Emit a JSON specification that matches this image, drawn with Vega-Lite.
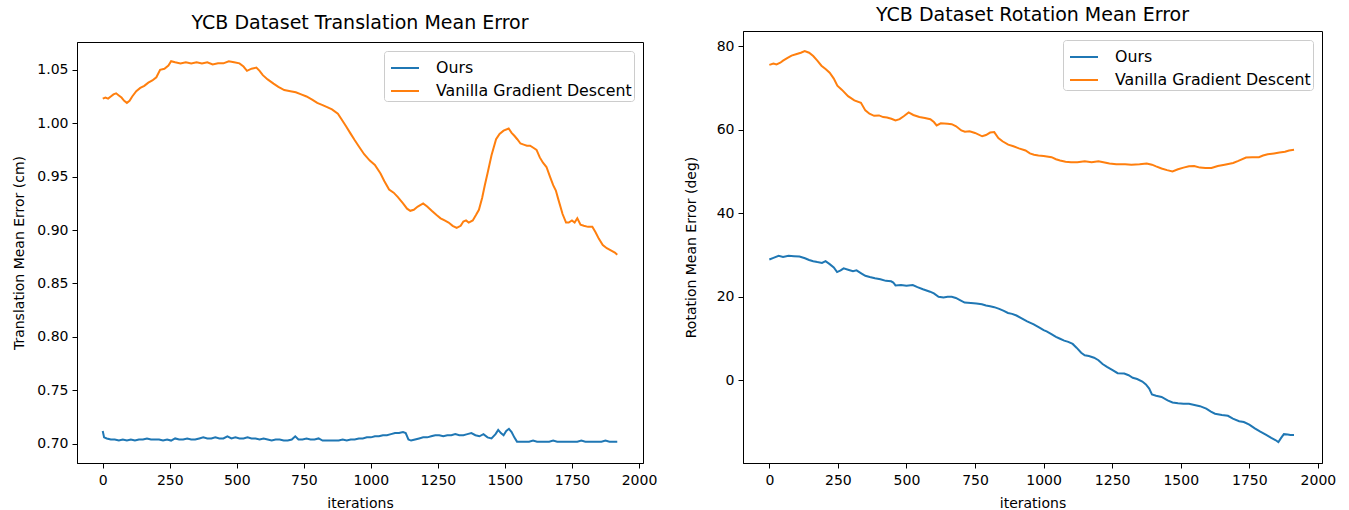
{
  "$schema": "https://vega.github.io/schema/vega-lite/v6.json",
  "background": "white",
  "padding": {"left": 12, "top": 4, "right": 5, "bottom": 5},
  "spacing": 25,
  "datasets": {
    "trans": [
      {"it":0,"s":"Vanilla Gradient Descent","v":1.023},{"it":10,"s":"Vanilla Gradient Descent","v":1.024},{"it":20,"s":"Vanilla Gradient Descent","v":1.023},{"it":30,"s":"Vanilla Gradient Descent","v":1.025},{"it":40,"s":"Vanilla Gradient Descent","v":1.027},{"it":50,"s":"Vanilla Gradient Descent","v":1.028},{"it":60,"s":"Vanilla Gradient Descent","v":1.026},{"it":70,"s":"Vanilla Gradient Descent","v":1.024},{"it":80,"s":"Vanilla Gradient Descent","v":1.021},{"it":90,"s":"Vanilla Gradient Descent","v":1.019},{"it":100,"s":"Vanilla Gradient Descent","v":1.021},{"it":110,"s":"Vanilla Gradient Descent","v":1.025},{"it":125,"s":"Vanilla Gradient Descent","v":1.030},{"it":140,"s":"Vanilla Gradient Descent","v":1.033},{"it":155,"s":"Vanilla Gradient Descent","v":1.035},{"it":170,"s":"Vanilla Gradient Descent","v":1.038},{"it":185,"s":"Vanilla Gradient Descent","v":1.040},{"it":200,"s":"Vanilla Gradient Descent","v":1.043},{"it":214,"s":"Vanilla Gradient Descent","v":1.050},{"it":230,"s":"Vanilla Gradient Descent","v":1.051},{"it":245,"s":"Vanilla Gradient Descent","v":1.054},{"it":255,"s":"Vanilla Gradient Descent","v":1.058},{"it":270,"s":"Vanilla Gradient Descent","v":1.057},{"it":290,"s":"Vanilla Gradient Descent","v":1.056},{"it":310,"s":"Vanilla Gradient Descent","v":1.057},{"it":330,"s":"Vanilla Gradient Descent","v":1.056},{"it":350,"s":"Vanilla Gradient Descent","v":1.057},{"it":370,"s":"Vanilla Gradient Descent","v":1.056},{"it":390,"s":"Vanilla Gradient Descent","v":1.057},{"it":410,"s":"Vanilla Gradient Descent","v":1.055},{"it":430,"s":"Vanilla Gradient Descent","v":1.056},{"it":450,"s":"Vanilla Gradient Descent","v":1.056},{"it":470,"s":"Vanilla Gradient Descent","v":1.058},{"it":490,"s":"Vanilla Gradient Descent","v":1.057},{"it":510,"s":"Vanilla Gradient Descent","v":1.056},{"it":525,"s":"Vanilla Gradient Descent","v":1.053},{"it":538,"s":"Vanilla Gradient Descent","v":1.049},{"it":555,"s":"Vanilla Gradient Descent","v":1.051},{"it":573,"s":"Vanilla Gradient Descent","v":1.052},{"it":585,"s":"Vanilla Gradient Descent","v":1.049},{"it":597,"s":"Vanilla Gradient Descent","v":1.045},{"it":615,"s":"Vanilla Gradient Descent","v":1.041},{"it":637,"s":"Vanilla Gradient Descent","v":1.037},{"it":655,"s":"Vanilla Gradient Descent","v":1.034},{"it":677,"s":"Vanilla Gradient Descent","v":1.031},{"it":700,"s":"Vanilla Gradient Descent","v":1.030},{"it":720,"s":"Vanilla Gradient Descent","v":1.029},{"it":740,"s":"Vanilla Gradient Descent","v":1.027},{"it":760,"s":"Vanilla Gradient Descent","v":1.025},{"it":781,"s":"Vanilla Gradient Descent","v":1.022},{"it":800,"s":"Vanilla Gradient Descent","v":1.019},{"it":820,"s":"Vanilla Gradient Descent","v":1.017},{"it":837,"s":"Vanilla Gradient Descent","v":1.015},{"it":855,"s":"Vanilla Gradient Descent","v":1.013},{"it":877,"s":"Vanilla Gradient Descent","v":1.009},{"it":890,"s":"Vanilla Gradient Descent","v":1.004},{"it":908,"s":"Vanilla Gradient Descent","v":0.997},{"it":925,"s":"Vanilla Gradient Descent","v":0.990},{"it":940,"s":"Vanilla Gradient Descent","v":0.984},{"it":956,"s":"Vanilla Gradient Descent","v":0.978},{"it":975,"s":"Vanilla Gradient Descent","v":0.971},{"it":996,"s":"Vanilla Gradient Descent","v":0.965},{"it":1015,"s":"Vanilla Gradient Descent","v":0.961},{"it":1036,"s":"Vanilla Gradient Descent","v":0.953},{"it":1050,"s":"Vanilla Gradient Descent","v":0.946},{"it":1068,"s":"Vanilla Gradient Descent","v":0.938},{"it":1085,"s":"Vanilla Gradient Descent","v":0.935},{"it":1100,"s":"Vanilla Gradient Descent","v":0.931},{"it":1120,"s":"Vanilla Gradient Descent","v":0.925},{"it":1135,"s":"Vanilla Gradient Descent","v":0.920},{"it":1147,"s":"Vanilla Gradient Descent","v":0.918},{"it":1160,"s":"Vanilla Gradient Descent","v":0.919},{"it":1175,"s":"Vanilla Gradient Descent","v":0.922},{"it":1195,"s":"Vanilla Gradient Descent","v":0.925},{"it":1210,"s":"Vanilla Gradient Descent","v":0.922},{"it":1227,"s":"Vanilla Gradient Descent","v":0.918},{"it":1245,"s":"Vanilla Gradient Descent","v":0.914},{"it":1260,"s":"Vanilla Gradient Descent","v":0.911},{"it":1275,"s":"Vanilla Gradient Descent","v":0.909},{"it":1290,"s":"Vanilla Gradient Descent","v":0.907},{"it":1305,"s":"Vanilla Gradient Descent","v":0.904},{"it":1320,"s":"Vanilla Gradient Descent","v":0.902},{"it":1335,"s":"Vanilla Gradient Descent","v":0.904},{"it":1345,"s":"Vanilla Gradient Descent","v":0.908},{"it":1355,"s":"Vanilla Gradient Descent","v":0.909},{"it":1365,"s":"Vanilla Gradient Descent","v":0.907},{"it":1380,"s":"Vanilla Gradient Descent","v":0.909},{"it":1392,"s":"Vanilla Gradient Descent","v":0.914},{"it":1403,"s":"Vanilla Gradient Descent","v":0.919},{"it":1415,"s":"Vanilla Gradient Descent","v":0.930},{"it":1425,"s":"Vanilla Gradient Descent","v":0.942},{"it":1435,"s":"Vanilla Gradient Descent","v":0.953},{"it":1450,"s":"Vanilla Gradient Descent","v":0.970},{"it":1467,"s":"Vanilla Gradient Descent","v":0.985},{"it":1480,"s":"Vanilla Gradient Descent","v":0.990},{"it":1495,"s":"Vanilla Gradient Descent","v":0.993},{"it":1514,"s":"Vanilla Gradient Descent","v":0.995},{"it":1525,"s":"Vanilla Gradient Descent","v":0.991},{"it":1536,"s":"Vanilla Gradient Descent","v":0.988},{"it":1546,"s":"Vanilla Gradient Descent","v":0.985},{"it":1558,"s":"Vanilla Gradient Descent","v":0.981},{"it":1570,"s":"Vanilla Gradient Descent","v":0.980},{"it":1582,"s":"Vanilla Gradient Descent","v":0.979},{"it":1594,"s":"Vanilla Gradient Descent","v":0.979},{"it":1606,"s":"Vanilla Gradient Descent","v":0.977},{"it":1618,"s":"Vanilla Gradient Descent","v":0.975},{"it":1630,"s":"Vanilla Gradient Descent","v":0.968},{"it":1642,"s":"Vanilla Gradient Descent","v":0.963},{"it":1655,"s":"Vanilla Gradient Descent","v":0.959},{"it":1668,"s":"Vanilla Gradient Descent","v":0.950},{"it":1680,"s":"Vanilla Gradient Descent","v":0.942},{"it":1690,"s":"Vanilla Gradient Descent","v":0.937},{"it":1700,"s":"Vanilla Gradient Descent","v":0.928},{"it":1715,"s":"Vanilla Gradient Descent","v":0.915},{"it":1728,"s":"Vanilla Gradient Descent","v":0.907},{"it":1738,"s":"Vanilla Gradient Descent","v":0.907},{"it":1750,"s":"Vanilla Gradient Descent","v":0.909},{"it":1760,"s":"Vanilla Gradient Descent","v":0.907},{"it":1770,"s":"Vanilla Gradient Descent","v":0.911},{"it":1782,"s":"Vanilla Gradient Descent","v":0.905},{"it":1794,"s":"Vanilla Gradient Descent","v":0.904},{"it":1810,"s":"Vanilla Gradient Descent","v":0.903},{"it":1826,"s":"Vanilla Gradient Descent","v":0.903},{"it":1838,"s":"Vanilla Gradient Descent","v":0.898},{"it":1850,"s":"Vanilla Gradient Descent","v":0.892},{"it":1865,"s":"Vanilla Gradient Descent","v":0.886},{"it":1880,"s":"Vanilla Gradient Descent","v":0.883},{"it":1895,"s":"Vanilla Gradient Descent","v":0.881},{"it":1910,"s":"Vanilla Gradient Descent","v":0.879},{"it":1919,"s":"Vanilla Gradient Descent","v":0.877},
      {"it":0,"s":"Ours","v":0.712},{"it":5,"s":"Ours","v":0.706},{"it":15,"s":"Ours","v":0.705},{"it":30,"s":"Ours","v":0.704},{"it":45,"s":"Ours","v":0.704},{"it":60,"s":"Ours","v":0.703},{"it":75,"s":"Ours","v":0.704},{"it":90,"s":"Ours","v":0.703},{"it":105,"s":"Ours","v":0.704},{"it":120,"s":"Ours","v":0.703},{"it":135,"s":"Ours","v":0.704},{"it":150,"s":"Ours","v":0.704},{"it":165,"s":"Ours","v":0.705},{"it":180,"s":"Ours","v":0.704},{"it":195,"s":"Ours","v":0.704},{"it":210,"s":"Ours","v":0.704},{"it":225,"s":"Ours","v":0.703},{"it":240,"s":"Ours","v":0.704},{"it":255,"s":"Ours","v":0.703},{"it":270,"s":"Ours","v":0.705},{"it":285,"s":"Ours","v":0.704},{"it":300,"s":"Ours","v":0.704},{"it":315,"s":"Ours","v":0.705},{"it":330,"s":"Ours","v":0.704},{"it":345,"s":"Ours","v":0.704},{"it":360,"s":"Ours","v":0.705},{"it":375,"s":"Ours","v":0.706},{"it":390,"s":"Ours","v":0.705},{"it":405,"s":"Ours","v":0.705},{"it":420,"s":"Ours","v":0.706},{"it":435,"s":"Ours","v":0.705},{"it":450,"s":"Ours","v":0.705},{"it":465,"s":"Ours","v":0.707},{"it":480,"s":"Ours","v":0.705},{"it":495,"s":"Ours","v":0.706},{"it":510,"s":"Ours","v":0.705},{"it":525,"s":"Ours","v":0.705},{"it":540,"s":"Ours","v":0.706},{"it":555,"s":"Ours","v":0.705},{"it":570,"s":"Ours","v":0.705},{"it":585,"s":"Ours","v":0.704},{"it":600,"s":"Ours","v":0.705},{"it":615,"s":"Ours","v":0.704},{"it":630,"s":"Ours","v":0.703},{"it":645,"s":"Ours","v":0.704},{"it":660,"s":"Ours","v":0.704},{"it":675,"s":"Ours","v":0.703},{"it":690,"s":"Ours","v":0.703},{"it":705,"s":"Ours","v":0.704},{"it":718,"s":"Ours","v":0.707},{"it":730,"s":"Ours","v":0.704},{"it":745,"s":"Ours","v":0.704},{"it":760,"s":"Ours","v":0.705},{"it":775,"s":"Ours","v":0.704},{"it":790,"s":"Ours","v":0.704},{"it":805,"s":"Ours","v":0.705},{"it":820,"s":"Ours","v":0.703},{"it":835,"s":"Ours","v":0.703},{"it":850,"s":"Ours","v":0.703},{"it":865,"s":"Ours","v":0.703},{"it":880,"s":"Ours","v":0.703},{"it":895,"s":"Ours","v":0.704},{"it":910,"s":"Ours","v":0.703},{"it":925,"s":"Ours","v":0.704},{"it":940,"s":"Ours","v":0.704},{"it":955,"s":"Ours","v":0.705},{"it":970,"s":"Ours","v":0.705},{"it":985,"s":"Ours","v":0.706},{"it":1000,"s":"Ours","v":0.706},{"it":1015,"s":"Ours","v":0.707},{"it":1030,"s":"Ours","v":0.707},{"it":1045,"s":"Ours","v":0.708},{"it":1060,"s":"Ours","v":0.708},{"it":1075,"s":"Ours","v":0.709},{"it":1090,"s":"Ours","v":0.710},{"it":1105,"s":"Ours","v":0.710},{"it":1120,"s":"Ours","v":0.711},{"it":1130,"s":"Ours","v":0.710},{"it":1140,"s":"Ours","v":0.704},{"it":1150,"s":"Ours","v":0.703},{"it":1165,"s":"Ours","v":0.704},{"it":1180,"s":"Ours","v":0.705},{"it":1195,"s":"Ours","v":0.706},{"it":1210,"s":"Ours","v":0.706},{"it":1225,"s":"Ours","v":0.707},{"it":1240,"s":"Ours","v":0.708},{"it":1255,"s":"Ours","v":0.708},{"it":1270,"s":"Ours","v":0.707},{"it":1285,"s":"Ours","v":0.708},{"it":1300,"s":"Ours","v":0.708},{"it":1315,"s":"Ours","v":0.709},{"it":1330,"s":"Ours","v":0.708},{"it":1345,"s":"Ours","v":0.708},{"it":1360,"s":"Ours","v":0.709},{"it":1375,"s":"Ours","v":0.710},{"it":1390,"s":"Ours","v":0.708},{"it":1405,"s":"Ours","v":0.707},{"it":1420,"s":"Ours","v":0.709},{"it":1435,"s":"Ours","v":0.706},{"it":1450,"s":"Ours","v":0.705},{"it":1465,"s":"Ours","v":0.709},{"it":1475,"s":"Ours","v":0.713},{"it":1485,"s":"Ours","v":0.710},{"it":1495,"s":"Ours","v":0.708},{"it":1505,"s":"Ours","v":0.712},{"it":1515,"s":"Ours","v":0.714},{"it":1525,"s":"Ours","v":0.711},{"it":1535,"s":"Ours","v":0.706},{"it":1545,"s":"Ours","v":0.702},{"it":1560,"s":"Ours","v":0.702},{"it":1575,"s":"Ours","v":0.702},{"it":1590,"s":"Ours","v":0.702},{"it":1605,"s":"Ours","v":0.703},{"it":1620,"s":"Ours","v":0.702},{"it":1635,"s":"Ours","v":0.702},{"it":1650,"s":"Ours","v":0.702},{"it":1665,"s":"Ours","v":0.702},{"it":1680,"s":"Ours","v":0.703},{"it":1695,"s":"Ours","v":0.702},{"it":1710,"s":"Ours","v":0.702},{"it":1725,"s":"Ours","v":0.702},{"it":1740,"s":"Ours","v":0.702},{"it":1755,"s":"Ours","v":0.702},{"it":1770,"s":"Ours","v":0.702},{"it":1785,"s":"Ours","v":0.703},{"it":1800,"s":"Ours","v":0.702},{"it":1815,"s":"Ours","v":0.702},{"it":1830,"s":"Ours","v":0.702},{"it":1845,"s":"Ours","v":0.702},{"it":1860,"s":"Ours","v":0.702},{"it":1875,"s":"Ours","v":0.703},{"it":1890,"s":"Ours","v":0.702},{"it":1905,"s":"Ours","v":0.702},{"it":1919,"s":"Ours","v":0.702}
    ],
    "rot": [
      {"it":0,"s":"Vanilla Gradient Descent","v":75.5},{"it":15,"s":"Vanilla Gradient Descent","v":75.8},{"it":26,"s":"Vanilla Gradient Descent","v":75.6},{"it":40,"s":"Vanilla Gradient Descent","v":76.0},{"it":50,"s":"Vanilla Gradient Descent","v":76.5},{"it":65,"s":"Vanilla Gradient Descent","v":77.1},{"it":81,"s":"Vanilla Gradient Descent","v":77.7},{"it":100,"s":"Vanilla Gradient Descent","v":78.1},{"it":115,"s":"Vanilla Gradient Descent","v":78.4},{"it":129,"s":"Vanilla Gradient Descent","v":78.8},{"it":145,"s":"Vanilla Gradient Descent","v":78.4},{"it":160,"s":"Vanilla Gradient Descent","v":77.6},{"it":175,"s":"Vanilla Gradient Descent","v":76.5},{"it":190,"s":"Vanilla Gradient Descent","v":75.3},{"it":205,"s":"Vanilla Gradient Descent","v":74.5},{"it":220,"s":"Vanilla Gradient Descent","v":73.6},{"it":235,"s":"Vanilla Gradient Descent","v":72.2},{"it":248,"s":"Vanilla Gradient Descent","v":70.5},{"it":265,"s":"Vanilla Gradient Descent","v":69.5},{"it":287,"s":"Vanilla Gradient Descent","v":68.0},{"it":310,"s":"Vanilla Gradient Descent","v":67.0},{"it":334,"s":"Vanilla Gradient Descent","v":66.4},{"it":350,"s":"Vanilla Gradient Descent","v":64.6},{"it":365,"s":"Vanilla Gradient Descent","v":63.8},{"it":382,"s":"Vanilla Gradient Descent","v":63.3},{"it":400,"s":"Vanilla Gradient Descent","v":63.4},{"it":415,"s":"Vanilla Gradient Descent","v":63.0},{"it":429,"s":"Vanilla Gradient Descent","v":62.9},{"it":445,"s":"Vanilla Gradient Descent","v":62.6},{"it":460,"s":"Vanilla Gradient Descent","v":62.2},{"it":475,"s":"Vanilla Gradient Descent","v":62.5},{"it":490,"s":"Vanilla Gradient Descent","v":63.2},{"it":508,"s":"Vanilla Gradient Descent","v":64.1},{"it":525,"s":"Vanilla Gradient Descent","v":63.5},{"it":547,"s":"Vanilla Gradient Descent","v":63.0},{"it":567,"s":"Vanilla Gradient Descent","v":62.8},{"it":587,"s":"Vanilla Gradient Descent","v":62.5},{"it":600,"s":"Vanilla Gradient Descent","v":61.8},{"it":610,"s":"Vanilla Gradient Descent","v":61.0},{"it":625,"s":"Vanilla Gradient Descent","v":61.5},{"it":650,"s":"Vanilla Gradient Descent","v":61.4},{"it":665,"s":"Vanilla Gradient Descent","v":61.3},{"it":681,"s":"Vanilla Gradient Descent","v":60.8},{"it":700,"s":"Vanilla Gradient Descent","v":59.8},{"it":713,"s":"Vanilla Gradient Descent","v":59.5},{"it":730,"s":"Vanilla Gradient Descent","v":59.6},{"it":750,"s":"Vanilla Gradient Descent","v":59.2},{"it":776,"s":"Vanilla Gradient Descent","v":58.4},{"it":790,"s":"Vanilla Gradient Descent","v":58.7},{"it":805,"s":"Vanilla Gradient Descent","v":59.3},{"it":820,"s":"Vanilla Gradient Descent","v":59.4},{"it":835,"s":"Vanilla Gradient Descent","v":58.0},{"it":850,"s":"Vanilla Gradient Descent","v":57.2},{"it":871,"s":"Vanilla Gradient Descent","v":56.4},{"it":890,"s":"Vanilla Gradient Descent","v":56.0},{"it":910,"s":"Vanilla Gradient Descent","v":55.5},{"it":934,"s":"Vanilla Gradient Descent","v":55.0},{"it":950,"s":"Vanilla Gradient Descent","v":54.3},{"it":965,"s":"Vanilla Gradient Descent","v":54.0},{"it":981,"s":"Vanilla Gradient Descent","v":53.8},{"it":1000,"s":"Vanilla Gradient Descent","v":53.7},{"it":1029,"s":"Vanilla Gradient Descent","v":53.4},{"it":1045,"s":"Vanilla Gradient Descent","v":52.9},{"it":1060,"s":"Vanilla Gradient Descent","v":52.6},{"it":1080,"s":"Vanilla Gradient Descent","v":52.3},{"it":1100,"s":"Vanilla Gradient Descent","v":52.2},{"it":1123,"s":"Vanilla Gradient Descent","v":52.2},{"it":1150,"s":"Vanilla Gradient Descent","v":52.4},{"it":1175,"s":"Vanilla Gradient Descent","v":52.2},{"it":1200,"s":"Vanilla Gradient Descent","v":52.4},{"it":1218,"s":"Vanilla Gradient Descent","v":52.2},{"it":1240,"s":"Vanilla Gradient Descent","v":51.9},{"it":1265,"s":"Vanilla Gradient Descent","v":51.7},{"it":1297,"s":"Vanilla Gradient Descent","v":51.7},{"it":1320,"s":"Vanilla Gradient Descent","v":51.6},{"it":1350,"s":"Vanilla Gradient Descent","v":51.7},{"it":1376,"s":"Vanilla Gradient Descent","v":51.9},{"it":1395,"s":"Vanilla Gradient Descent","v":51.6},{"it":1410,"s":"Vanilla Gradient Descent","v":51.2},{"it":1430,"s":"Vanilla Gradient Descent","v":50.7},{"it":1450,"s":"Vanilla Gradient Descent","v":50.3},{"it":1470,"s":"Vanilla Gradient Descent","v":50.0},{"it":1490,"s":"Vanilla Gradient Descent","v":50.5},{"it":1510,"s":"Vanilla Gradient Descent","v":50.9},{"it":1530,"s":"Vanilla Gradient Descent","v":51.2},{"it":1549,"s":"Vanilla Gradient Descent","v":51.3},{"it":1570,"s":"Vanilla Gradient Descent","v":50.9},{"it":1590,"s":"Vanilla Gradient Descent","v":50.8},{"it":1612,"s":"Vanilla Gradient Descent","v":50.8},{"it":1635,"s":"Vanilla Gradient Descent","v":51.3},{"it":1660,"s":"Vanilla Gradient Descent","v":51.6},{"it":1691,"s":"Vanilla Gradient Descent","v":52.0},{"it":1710,"s":"Vanilla Gradient Descent","v":52.5},{"it":1738,"s":"Vanilla Gradient Descent","v":53.3},{"it":1760,"s":"Vanilla Gradient Descent","v":53.4},{"it":1785,"s":"Vanilla Gradient Descent","v":53.4},{"it":1800,"s":"Vanilla Gradient Descent","v":53.8},{"it":1817,"s":"Vanilla Gradient Descent","v":54.1},{"it":1840,"s":"Vanilla Gradient Descent","v":54.3},{"it":1860,"s":"Vanilla Gradient Descent","v":54.5},{"it":1880,"s":"Vanilla Gradient Descent","v":54.7},{"it":1895,"s":"Vanilla Gradient Descent","v":55.0},{"it":1913,"s":"Vanilla Gradient Descent","v":55.2},
      {"it":0,"s":"Ours","v":28.9},{"it":15,"s":"Ours","v":29.3},{"it":34,"s":"Ours","v":29.8},{"it":50,"s":"Ours","v":29.5},{"it":70,"s":"Ours","v":29.8},{"it":90,"s":"Ours","v":29.7},{"it":110,"s":"Ours","v":29.6},{"it":130,"s":"Ours","v":29.2},{"it":145,"s":"Ours","v":28.8},{"it":160,"s":"Ours","v":28.5},{"it":175,"s":"Ours","v":28.3},{"it":192,"s":"Ours","v":28.1},{"it":205,"s":"Ours","v":28.5},{"it":220,"s":"Ours","v":27.8},{"it":235,"s":"Ours","v":27.0},{"it":247,"s":"Ours","v":25.9},{"it":260,"s":"Ours","v":26.3},{"it":271,"s":"Ours","v":26.8},{"it":290,"s":"Ours","v":26.4},{"it":305,"s":"Ours","v":26.1},{"it":318,"s":"Ours","v":26.3},{"it":335,"s":"Ours","v":25.6},{"it":350,"s":"Ours","v":25.0},{"it":366,"s":"Ours","v":24.7},{"it":385,"s":"Ours","v":24.4},{"it":405,"s":"Ours","v":24.2},{"it":425,"s":"Ours","v":23.8},{"it":444,"s":"Ours","v":23.7},{"it":452,"s":"Ours","v":23.4},{"it":460,"s":"Ours","v":22.7},{"it":480,"s":"Ours","v":22.8},{"it":500,"s":"Ours","v":22.6},{"it":523,"s":"Ours","v":22.8},{"it":540,"s":"Ours","v":22.3},{"it":560,"s":"Ours","v":21.8},{"it":586,"s":"Ours","v":21.2},{"it":600,"s":"Ours","v":20.8},{"it":617,"s":"Ours","v":20.0},{"it":635,"s":"Ours","v":19.8},{"it":650,"s":"Ours","v":20.0},{"it":665,"s":"Ours","v":20.0},{"it":680,"s":"Ours","v":19.7},{"it":695,"s":"Ours","v":19.2},{"it":712,"s":"Ours","v":18.6},{"it":735,"s":"Ours","v":18.5},{"it":755,"s":"Ours","v":18.4},{"it":775,"s":"Ours","v":18.2},{"it":790,"s":"Ours","v":17.9},{"it":805,"s":"Ours","v":17.7},{"it":820,"s":"Ours","v":17.5},{"it":838,"s":"Ours","v":17.1},{"it":855,"s":"Ours","v":16.6},{"it":870,"s":"Ours","v":16.1},{"it":885,"s":"Ours","v":15.9},{"it":901,"s":"Ours","v":15.5},{"it":920,"s":"Ours","v":14.8},{"it":940,"s":"Ours","v":14.1},{"it":964,"s":"Ours","v":13.4},{"it":985,"s":"Ours","v":12.6},{"it":1000,"s":"Ours","v":12.0},{"it":1011,"s":"Ours","v":11.7},{"it":1030,"s":"Ours","v":11.0},{"it":1045,"s":"Ours","v":10.4},{"it":1058,"s":"Ours","v":10.0},{"it":1075,"s":"Ours","v":9.5},{"it":1090,"s":"Ours","v":9.2},{"it":1106,"s":"Ours","v":8.7},{"it":1120,"s":"Ours","v":7.8},{"it":1137,"s":"Ours","v":6.6},{"it":1150,"s":"Ours","v":6.0},{"it":1165,"s":"Ours","v":5.8},{"it":1184,"s":"Ours","v":5.4},{"it":1200,"s":"Ours","v":4.8},{"it":1215,"s":"Ours","v":3.9},{"it":1231,"s":"Ours","v":3.2},{"it":1250,"s":"Ours","v":2.5},{"it":1270,"s":"Ours","v":1.7},{"it":1294,"s":"Ours","v":1.6},{"it":1310,"s":"Ours","v":1.2},{"it":1325,"s":"Ours","v":0.6},{"it":1341,"s":"Ours","v":0.3},{"it":1360,"s":"Ours","v":-0.3},{"it":1373,"s":"Ours","v":-1.0},{"it":1385,"s":"Ours","v":-2.0},{"it":1395,"s":"Ours","v":-3.4},{"it":1410,"s":"Ours","v":-3.7},{"it":1430,"s":"Ours","v":-4.0},{"it":1452,"s":"Ours","v":-4.8},{"it":1470,"s":"Ours","v":-5.3},{"it":1490,"s":"Ours","v":-5.5},{"it":1510,"s":"Ours","v":-5.6},{"it":1530,"s":"Ours","v":-5.6},{"it":1550,"s":"Ours","v":-5.9},{"it":1570,"s":"Ours","v":-6.2},{"it":1593,"s":"Ours","v":-6.8},{"it":1610,"s":"Ours","v":-7.5},{"it":1625,"s":"Ours","v":-8.0},{"it":1650,"s":"Ours","v":-8.3},{"it":1672,"s":"Ours","v":-8.5},{"it":1690,"s":"Ours","v":-9.2},{"it":1713,"s":"Ours","v":-9.8},{"it":1730,"s":"Ours","v":-10.0},{"it":1750,"s":"Ours","v":-10.6},{"it":1770,"s":"Ours","v":-11.5},{"it":1790,"s":"Ours","v":-12.3},{"it":1810,"s":"Ours","v":-13.0},{"it":1830,"s":"Ours","v":-13.8},{"it":1845,"s":"Ours","v":-14.3},{"it":1856,"s":"Ours","v":-14.8},{"it":1866,"s":"Ours","v":-13.8},{"it":1876,"s":"Ours","v":-12.9},{"it":1890,"s":"Ours","v":-13.0},{"it":1900,"s":"Ours","v":-13.1},{"it":1913,"s":"Ours","v":-13.1}
    ],
    "empty": []
  },
  "resolve": {"legend": {"color": "independent"}, "scale": {"y": "independent"}},
  "hconcat": [
    {
      "spacing": 0,
      "resolve": {"legend": {"color": "independent"}},
      "vconcat": [
        {
          "width": 1,
          "height": 1,
          "data": {"name": "empty"},
          "mark": {"type": "point"},
          "view": {"stroke": null}
        },
        {
          "width": 566,
          "height": 421,
          "title": {"text": ["", "YCB Dataset Translation Mean Error"], "offset": 9},
          "data": {"name": "trans"},
          "mark": {"type": "line", "strokeWidth": 2, "interpolate": "linear"},
          "encoding": {
            "x": {"field": "it", "type": "quantitative", "title": "iterations",
                  "scale": {"domain": [-96, 2015], "nice": false, "zero": false},
                  "axis": {"values": [0, 250, 500, 750, 1000, 1250, 1500, 1750, 2000], "format": "d"}},
            "y": {"field": "v", "type": "quantitative", "title": "Translation Mean Error (cm)",
                  "scale": {"domain": [0.682, 1.076], "nice": false, "zero": false},
                  "axis": {"values": [0.70, 0.75, 0.80, 0.85, 0.90, 0.95, 1.00, 1.05], "format": ".2f"}},
            "color": {"field": "s", "type": "nominal",
                      "scale": {"domain": ["Ours", "Vanilla Gradient Descent"], "range": ["#1f77b4", "#ff7f0e"]},
                      "legend": {"title": null, "orient": "top-right", "offset": 9}},
            "order": {"field": "it", "type": "quantitative"}
          }
        }
      ]
    },
    {
      "spacing": 0,
      "resolve": {"legend": {"color": "independent"}},
      "vconcat": [
        {
          "width": 1,
          "height": 1,
          "data": {"name": "empty"},
          "mark": {"type": "point"},
          "view": {"stroke": null}
        },
        {
          "width": 579,
          "height": 432,
          "title": {"text": "YCB Dataset Rotation Mean Error", "offset": 6},
          "data": {"name": "rot"},
          "mark": {"type": "line", "strokeWidth": 2, "interpolate": "linear"},
          "encoding": {
            "x": {"field": "it", "type": "quantitative", "title": "iterations",
                  "scale": {"domain": [-96, 2015], "nice": false, "zero": false},
                  "axis": {"values": [0, 250, 500, 750, 1000, 1250, 1500, 1750, 2000], "format": "d"}},
            "y": {"field": "v", "type": "quantitative", "title": "Rotation Mean Error (deg)",
                  "scale": {"domain": [-19.8, 83.6], "nice": false, "zero": false},
                  "axis": {"values": [0, 20, 40, 60, 80], "titlePadding": 18}},
            "color": {"field": "s", "type": "nominal",
                      "scale": {"domain": ["Ours", "Vanilla Gradient Descent"], "range": ["#1f77b4", "#ff7f0e"]},
                      "legend": {"title": null, "orient": "top-right", "offset": 9}},
            "order": {"field": "it", "type": "quantitative"}
          }
        }
      ]
    }
  ],
  "config": {
    "font": "DejaVu Sans",
    "view": {"stroke": "black", "strokeWidth": 1},
    "title": {"font": "DejaVu Sans", "fontSize": 19, "fontWeight": "normal", "color": "black", "lineHeight": 8},
    "axis": {
      "grid": false, "domainColor": "black", "tickColor": "black", "tickSize": 5,
      "labelFont": "DejaVu Sans", "labelFontSize": 14, "labelColor": "black", "labelPadding": 4,
      "titleFont": "DejaVu Sans", "titleFontSize": 14, "titleFontWeight": "normal", "titleColor": "black",
      "titlePadding": 6
    },
    "axisX": {"labelPadding": 5, "titlePadding": 9},
    "axisY": {"titlePadding": 10},
    "legend": {
      "labelFont": "DejaVu Sans", "labelFontSize": 15.8, "labelColor": "black", "labelLimit": 0,
      "symbolType": "stroke", "symbolSize": 784, "symbolStrokeWidth": 2, "symbolOffset": 4,
      "rowPadding": -1, "padding": 2, "labelOffset": 16,
      "strokeColor": "#cccccc", "cornerRadius": 3, "fillColor": "rgba(255,255,255,0.8)"
    }
  }
}
